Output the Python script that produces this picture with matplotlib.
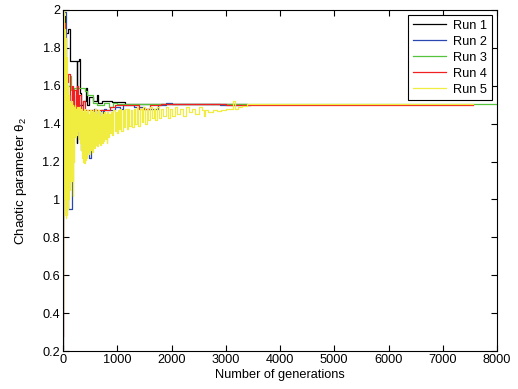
import matplotlib
matplotlib.use("Agg")
import matplotlib.pyplot as plt

plt.rcParams['font.family'] = ['Liberation Sans', 'DejaVu Sans']
plt.rcParams['mathtext.fontset'] = 'custom'
plt.rcParams['mathtext.rm'] = 'Liberation Sans'
plt.rcParams['mathtext.it'] = 'Liberation Sans'

labels = ["Run 1", "Run 2", "Run 3", "Run 4", "Run 5"]
colors = ["#000000", "#2a46b0", "#55c43c", "#f02020", "#f0ec40"]

run1_gen = [0, 3, 40, 90, 125, 255, 265, 290, 305, 330, 370, 420, 440, 480, 560, 620, 650, 720, 900, 1150, 3400]
run1_val = [0.21, 1.97, 1.88, 1.90, 1.73, 1.30, 1.73, 1.74, 1.56, 1.50, 1.52, 1.59, 1.50, 1.54, 1.52, 1.55, 1.51, 1.52, 1.515, 1.505, 1.50]

run2_gen = [0, 60, 75, 100, 170, 200, 260, 330, 480, 510, 540, 570, 600, 640, 660, 700, 730, 760, 800, 950, 1050,
            1100, 1300, 1500, 1750, 1900, 2000, 2900, 3450]
run2_val = [1.99, 1.55, 1.00, 0.95, 1.55, 1.45, 1.50, 1.26, 1.22, 1.45, 1.38, 1.48, 1.42, 1.46, 1.40, 1.47, 1.42,
            1.48, 1.47, 1.49, 1.48, 1.50, 1.49, 1.48, 1.50, 1.51, 1.505, 1.50, 1.50]

run3_gen = [0, 40, 80, 120, 150, 200, 400, 450, 550, 620, 760, 850, 920, 1000, 3600, 8000]
run3_val = [1.80, 1.66, 1.60, 1.65, 1.58, 1.59, 1.57, 1.55, 1.51, 1.50, 1.51, 1.49, 1.51, 1.505, 1.502, 1.502]

run4_gen = [0, 3, 8, 30, 60, 100, 130, 160, 190, 210, 240, 260, 280, 300, 330, 370, 400, 870, 950, 1050, 1400,
            1600, 1800, 3000, 7550]
run4_val = [0.28, 1.20, 1.93, 1.75, 1.62, 1.66, 1.45, 1.60, 1.42, 1.58, 1.48, 1.60, 1.36, 1.55, 1.47, 1.52, 1.47,
            1.49, 1.50, 1.50, 1.48, 1.50, 1.505, 1.498, 1.498]

run5_gen = [0, 3, 6, 10, 14, 18, 22, 26, 30, 34, 38, 42, 46, 50, 54, 58, 62, 66, 70, 74, 78, 82, 86, 90, 94, 98,
            102, 106, 110, 114, 118, 122, 128, 134, 140, 146, 152, 158, 164, 170, 176, 182, 188, 194, 200, 210,
            220, 230, 240, 250, 260, 270, 280, 290, 300, 310, 320, 330, 340, 350, 360, 370, 380, 390, 400, 412,
            424, 436, 448, 460, 472, 484, 496, 508, 520, 532, 544, 556, 568, 580, 592, 604, 616, 628, 640, 655,
            670, 685, 700, 715, 730, 745, 760, 775, 790, 805, 820, 835, 850, 870, 890, 910, 930, 950, 970, 990,
            1010, 1030, 1050, 1075, 1100, 1125, 1150, 1175, 1200, 1225, 1250, 1275, 1300, 1330, 1360, 1390, 1420,
            1450, 1480, 1510, 1540, 1570, 1600, 1635, 1670, 1705, 1740, 1775, 1810, 1850, 1890, 1930, 1970, 2010,
            2060, 2110, 2160, 2210, 2260, 2320, 2380, 2440, 2500, 2560, 2600, 2620, 2680, 2760, 2840, 2920, 3000,
            3080, 3140, 3170, 3220, 3300, 3400, 7550]
run5_val = [0.42, 0.56, 2.00, 1.05, 1.98, 1.10, 1.95, 1.00, 1.90, 0.95, 1.88, 0.92, 1.85, 0.90, 1.80, 0.91, 1.75,
            0.92, 1.70, 0.94, 1.65, 0.95, 1.60, 0.98, 1.58, 1.00, 1.55, 1.02, 1.53, 1.01, 1.52, 1.05, 1.50, 1.10,
            1.51, 1.12, 1.50, 1.15, 1.52, 1.10, 1.50, 1.02, 1.49, 1.20, 1.48, 1.35, 1.50, 1.33, 1.48, 1.34, 1.49,
            1.36, 1.48, 1.32, 1.49, 1.30, 1.47, 1.26, 1.48, 1.22, 1.46, 1.20, 1.47, 1.19, 1.48, 1.21, 1.46, 1.22,
            1.47, 1.25, 1.45, 1.24, 1.47, 1.26, 1.46, 1.25, 1.47, 1.28, 1.46, 1.27, 1.48, 1.29, 1.45, 1.28, 1.47,
            1.30, 1.44, 1.29, 1.46, 1.30, 1.45, 1.31, 1.46, 1.32, 1.45, 1.30, 1.46, 1.33, 1.45, 1.35, 1.46, 1.34,
            1.47, 1.36, 1.46, 1.35, 1.47, 1.37, 1.48, 1.36, 1.47, 1.38, 1.48, 1.37, 1.48, 1.39, 1.47, 1.38, 1.48,
            1.40, 1.49, 1.39, 1.48, 1.41, 1.49, 1.40, 1.48, 1.42, 1.49, 1.43, 1.48, 1.42, 1.49, 1.43, 1.48, 1.44,
            1.49, 1.43, 1.48, 1.44, 1.49, 1.45, 1.48, 1.44, 1.49, 1.46, 1.48, 1.45, 1.49, 1.47, 1.44, 1.47, 1.46,
            1.47, 1.465, 1.47, 1.48, 1.48, 1.52, 1.48, 1.49, 1.495, 1.502, 1.502]

runs = [(run1_gen, run1_val), (run2_gen, run2_val), (run3_gen, run3_val), (run4_gen, run4_val), (run5_gen, run5_val)]

x_ticks = [0, 1000, 2000, 3000, 4000, 5000, 6000, 7000, 8000]
y_ticks = [0.2, 0.4, 0.6, 0.8, 1.0, 1.2, 1.4, 1.6, 1.8, 2.0]
y_ticklabels = ["0.2", "0.4", "0.6", "0.8", "1", "1.2", "1.4", "1.6", "1.8", "2"]

fig = plt.figure(figsize=(5.18, 3.89), dpi=100)
ax = fig.add_axes([63 / 518, 38 / 389, 434 / 518, 341 / 389])

for (g, v), c, lab in zip(runs, colors, labels):
    ax.plot(g, v, color=c, lw=0.9, drawstyle='steps-post', label=lab)

ax.set_xlim(0, 8000)
ax.set_ylim(0.2, 2.0)
ax.set_xticks(x_ticks)
ax.set_yticks(y_ticks)
ax.set_yticklabels(y_ticklabels)
ax.tick_params(direction='in', top=True, right=True, length=4, width=0.8, labelsize=9.2, pad=2)
for s in ax.spines.values():
    s.set_linewidth(0.8)

ax.set_xlabel("Number of generations", fontsize=9.2, labelpad=2)
ax.set_ylabel("Chaotic parameter θ$_2$", fontsize=9.6, labelpad=10)

leg = ax.legend(loc='upper right', fontsize=9.2, frameon=True, fancybox=False, edgecolor='black',
                framealpha=1, handlelength=2.6, borderpad=0.35, labelspacing=0.32, handletextpad=0.6,
                borderaxespad=0.4)
leg.get_frame().set_linewidth(0.8)

fig.savefig("out.png", dpi=100)
